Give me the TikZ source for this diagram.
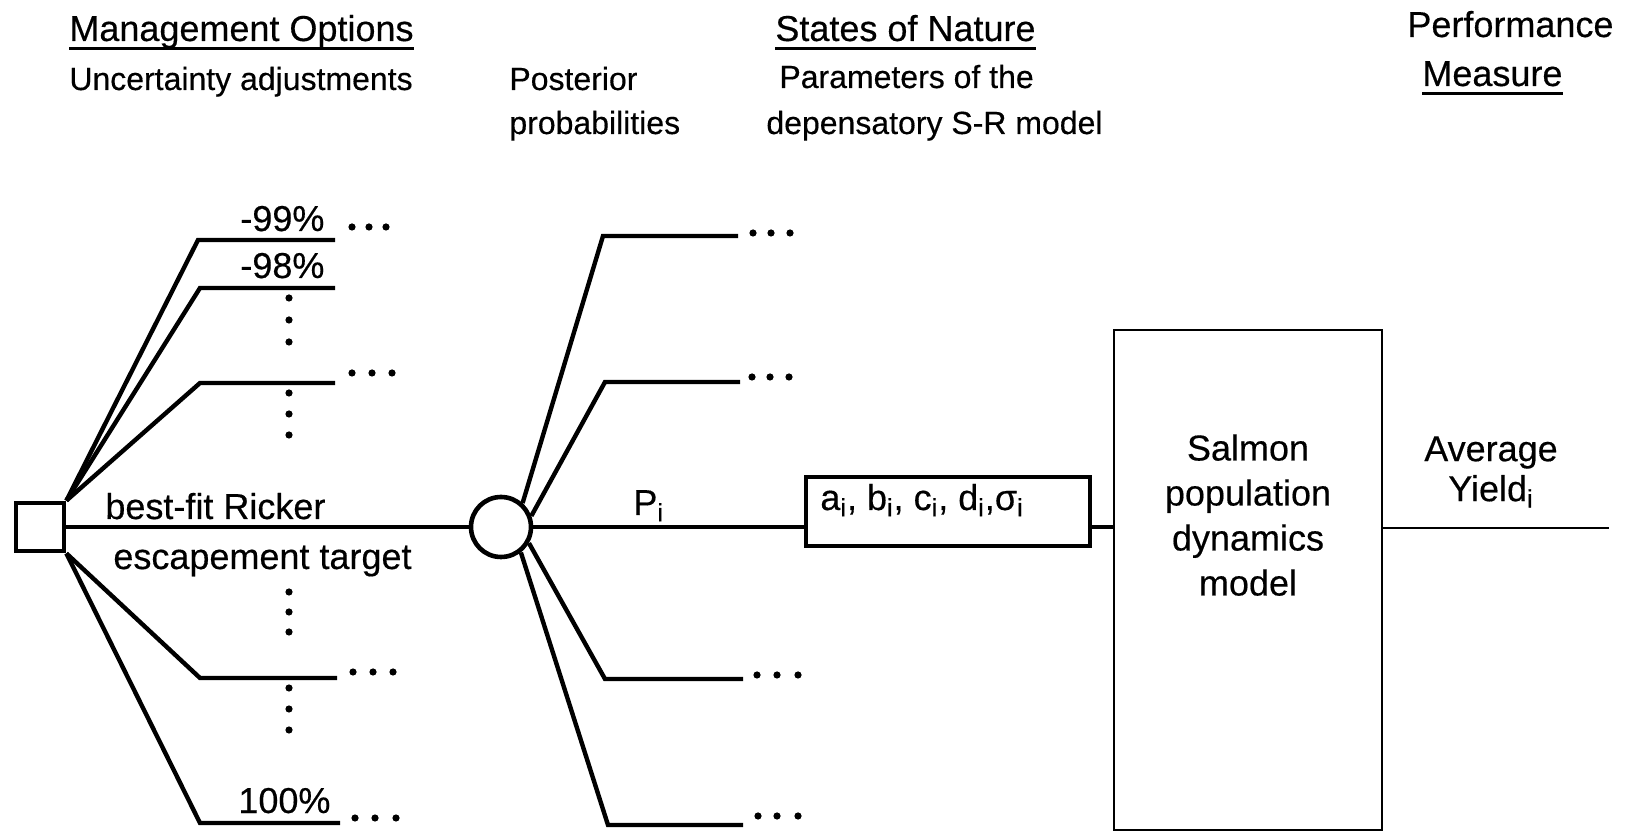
\documentclass[tikz,border=0pt]{standalone}
\usepackage{fontspec}
\setmainfont{Liberation Sans}[FakeBold=0.4]
\begin{document}
\begin{tikzpicture}[x=0.5pt,y=-0.5pt,
  big/.style={font=\fontsize{18}{22}\selectfont, inner sep=0pt, anchor=base west},
  small/.style={font=\fontsize{16}{20}\selectfont, inner sep=0pt, anchor=base west},
  branch/.style={line width=2.2pt},
  uline/.style={line width=1.5pt},
  dotfill/.style={fill=black}
]
\useasboundingbox (0,0) rectangle (1649,838);

% headings
\node[big] (mo) at (69,41) {Management Options};
\draw[uline] ([yshift=-4pt]mo.base west) -- ([yshift=-4pt]mo.base east);
\node[small] (ua) at (69,90) {Uncertainty adjustments};
\node[small] (pp1) at (509,90) {Posterior};
\node[small] (pp2) at (509,134) {probabilities};
\node[big] (sn) at (775,41) {States of Nature};
\draw[uline] ([yshift=-4pt]sn.base west) -- ([yshift=-4pt]sn.base east);
\node[small] (sp1) at (779,88) {Parameters of the};
\node[small] (sp2) at (766,134) {depensatory S-R model};
\node[big] (pm1) at (1407,37) {Performance};
\node[big] (pm2) at (1422,86) {Measure};
\draw[uline] ([yshift=-4pt]pm2.base west) -- ([yshift=-4pt]pm2.base east);

% main nodes
\node[draw, line width=2.4pt, minimum size=24pt, inner sep=0pt] (sq) at (40,527) {};
\node[draw, circle, line width=2.3pt, minimum size=30pt, inner sep=0pt] (ci) at (501,527) {};
\node[draw, line width=2.1pt, minimum width=142pt, minimum height=34.5pt, inner sep=0pt] (pb) at (948,511.5) {};
\node[big] (pbt) at (820,510) {a\textsubscript{i}, b\textsubscript{i}, c\textsubscript{i}, d\textsubscript{i},σ\textsubscript{i}};
\node[draw, line width=1.1pt, minimum width=134pt, minimum height=250pt, inner sep=0pt] (sm) at (1248,580) {};
\node[font=\fontsize{18}{22.5}\selectfont, align=center, anchor=north, inner sep=0pt] (smt) at (1248,434) {Salmon\\population\\dynamics\\model};
\node[font=\fontsize{18}{20}\selectfont, align=center, anchor=north, inner sep=0pt] (ay) at (1491,436) {Average\\Yield\textsubscript{i}};
\coordinate (out) at (1609,528);

% main line
\draw[branch] (sq.east) -- (ci.west);
\draw[branch] (ci.east) -- (ci.east -| pb.west);
\draw[branch] (pb.east |- ci.east) -- (ci.east -| sm.west);
\draw[line width=1pt] (sm.east |- out) -- (out);

% decision branches
\coordinate (u1a) at (198,240); \coordinate (u1b) at (335,240);
\coordinate (u2a) at (200,288); \coordinate (u2b) at (335,288);
\coordinate (u3a) at (200,383); \coordinate (u3b) at (335,383);
\coordinate (l1a) at (200,678); \coordinate (l1b) at (337,678);
\coordinate (l2a) at (200,823); \coordinate (l2b) at (340,823);
\draw[branch] (sq.north east) -- (u1a) -- (u1b);
\draw[branch] (sq.north east) -- (u2a) -- (u2b);
\draw[branch] (sq.north east) -- (u3a) -- (u3b);
\draw[branch] (sq.south east) -- (l1a) -- (l1b);
\draw[branch] (sq.south east) -- (l2a) -- (l2b);

% chance branches
\coordinate (c1a) at (603,236); \coordinate (c1b) at (738,236);
\coordinate (c2a) at (605,382); \coordinate (c2b) at (740,382);
\coordinate (c3a) at (605,679); \coordinate (c3b) at (743,679);
\coordinate (c4a) at (608,825); \coordinate (c4b) at (743,825);
\draw[branch] (ci.48) -- (c1a) -- (c1b);
\draw[branch] (ci.20) -- (c2a) -- (c2b);
\draw[branch] (ci.-30) -- (c3a) -- (c3b);
\draw[branch] (ci.-52) -- (c4a) -- (c4b);

% labels
\node[big] (l99) at (240,231) {-99\%};
\node[big] (l98) at (240,278) {-98\%};
\node[big] (lbf) at (105,519) {best-fit Ricker};
\node[big] (lesc) at (113,569) {escapement target};
\node[big] (l100) at (238,813) {100\%};
\node[big] (lp) at (633,515) {P\textsubscript{i}};

% dots
\foreach \x/\y in {352/227,369/227,386/227, 352/373,372/373,392/373,
  353/672,373/672,393/672, 355/818,375/818,396/818,
  289/298,289/320,289/342, 289/393,289/414,289/435,
  289/592,289/612,289/632, 289/688,289/709,289/730,
  753/233,771/233,790/233, 752/377,770/377,789/377,
  757/675,777/675,798/675, 758/816,777/816,798/816}
  \fill[dotfill] (\x,\y) circle (1.8pt);
\end{tikzpicture}
\end{document}
